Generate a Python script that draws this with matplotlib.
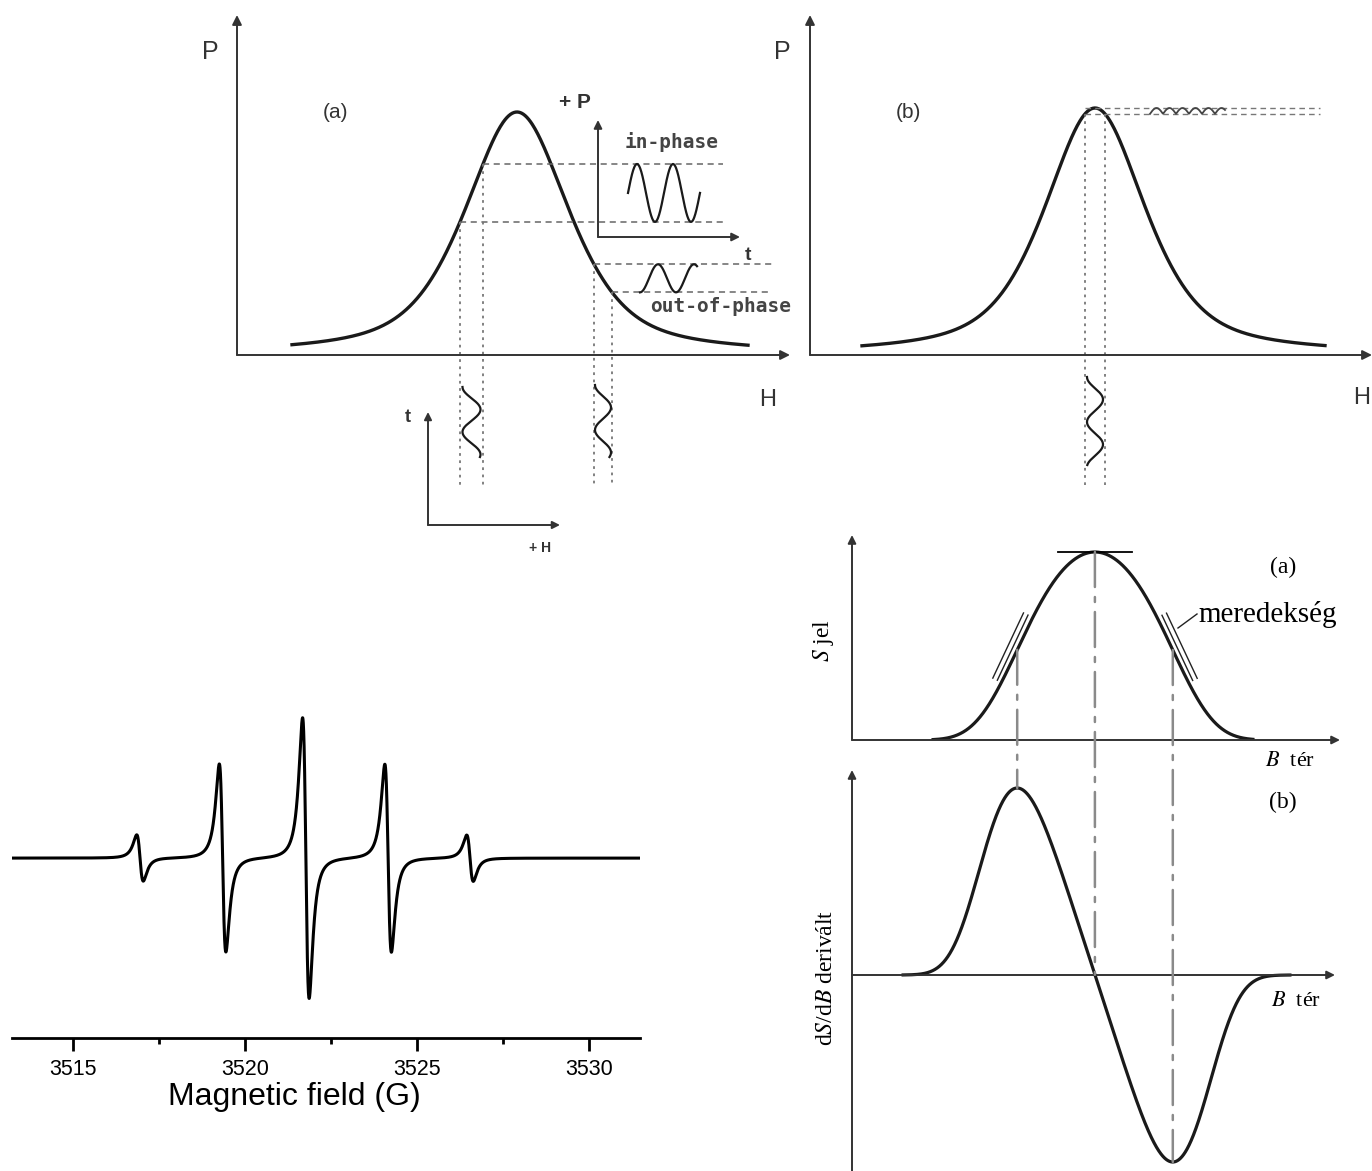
import numpy as np
import matplotlib.pyplot as plt
from matplotlib.patches import ConnectionPatch
from matplotlib.ticker import MultipleLocator

plt.rcParams['mathtext.fontset'] = 'stix'

W_PX, H_PX = 1372, 1171

# (a) / (b) absorption sketches, pseudo-Voigt lines (drawing units)
abs_center = [280, 285]
abs_width = [62, 60]
abs_height = [243, 247]
abs_eta = 0.6
abs_span = [(55, 511), (52, 515)]
mod_a_left = [223, 246]     # field modulation on the rising side
mod_a_right = [357, 375]    # field modulation on the falling side
mod_b = [275, 295]          # modulation at the line centre

# EPR spectrum, 1:4:6:4:1 quintet
epr_centers = [3516.95, 3519.35, 3521.77, 3524.16, 3526.54]
epr_amps = [0.17, 0.69, 1.03, 0.69, 0.17]
epr_hwhm = 0.165
epr_xlim = (3513.23, 3531.48)
epr_ticks = [3515, 3520, 3525, 3530]

# S jel / derivative sketch
s_center = 243
s_scale = 110
s_height = 188
d_height = 187

INK = '#1a1a1a'
AXC = '#333333'


def box(x0, y0, x1, y1):
    return [x0 / W_PX, 1 - y1 / H_PX, (x1 - x0) / W_PX, (y1 - y0) / H_PX]


def arrow(ax, p0, p1, ms=14):
    ax.annotate('', xy=p1, xytext=p0,
                arrowprops=dict(arrowstyle='-|>', lw=1.4, color=AXC,
                                mutation_scale=ms, shrinkA=0, shrinkB=0),
                annotation_clip=False)


def line(x, c, w, a):
    u = (np.asarray(x, dtype=float) - c) / w
    return a * (abs_eta / (1 + u ** 2) + (1 - abs_eta) * np.exp(-np.log(2) * u ** 2))


def wiggle(ax, pair, y0, y1, amp):
    yy = np.linspace(y0, y1, 200)
    mid = (pair[0] + pair[1]) / 2
    xx = mid - amp * np.cos(2 * np.pi * (y0 - yy) / 45)
    ax.plot(xx, yy, color=INK, lw=1.6, clip_on=False)


fig = plt.figure(figsize=(13.72, 11.71), dpi=100)
sans = 'Liberation Sans'
serif = 'Liberation Serif'

# ---------------- panel (a) top left ----------------
ax = fig.add_axes(box(237, 15, 790, 355))
ax.set_xlim(0, 553)
ax.set_ylim(0, 340)
ax.axis('off')
arrow(ax, (0, 0), (0, 340))
arrow(ax, (0, 0), (553, 0))
c, w, a = abs_center[0], abs_width[0], abs_height[0]
x = np.linspace(*abs_span[0], 500)
ax.plot(x, line(x, c, w, a), color=INK, lw=2.4)

for pair, xend in ((mod_a_left, 486), (mod_a_right, 535)):
    for xm in pair:
        ym = line(xm, c, w, a)
        ax.plot([xm, xend], [ym, ym], ls=(0, (4, 3)), color='#666', lw=1.1, clip_on=False)
        ax.plot([xm, xm], [ym, -130], ls=(0, (1.5, 2.5)), color='#777', lw=1.3, clip_on=False)

# response inset
arrow(ax, (361, 118), (361, 235), ms=12)
arrow(ax, (361, 118), (503, 118), ms=12)
lo, hi = line(mod_a_left, c, w, a)
xs = np.linspace(391, 463, 200)
ax.plot(xs, (lo + hi) / 2 + (hi - lo) / 2 * np.cos(2 * np.pi * (xs - 400) / 36), color=INK, lw=1.6)
hi2, lo2 = line(mod_a_right, c, w, a)
xs = np.linspace(403, 460, 200)
ax.plot(xs, (lo2 + hi2) / 2 - (hi2 - lo2) / 2 * np.cos(2 * np.pi * (xs - 403) / 36), color=INK, lw=1.6)

wiggle(ax, mod_a_left, -32, -102, 9)
wiggle(ax, mod_a_right, -30, -102, 8)
arrow(ax, (191, -170), (191, -57), ms=11)
arrow(ax, (191, -170), (323, -170), ms=11)

ax.text(-27, 303, 'P', fontsize=18, family=sans, ha='center', va='center', color=AXC)
ax.text(531, -45, 'H', fontsize=17, family=sans, ha='center', va='center', color=AXC)
ax.text(98, 243, '(a)', fontsize=15, family=sans, ha='center', va='center', color=AXC)
ax.text(338, 252, '+ P', fontsize=15, family=sans, weight='bold', ha='center', va='center', color=AXC)
ax.text(435, 213, 'in-phase', fontsize=14, family='DejaVu Sans Mono', weight='bold',
        ha='center', va='center', color='#444')
ax.text(511, 100, 't', fontsize=14, family=sans, weight='bold', ha='center', va='center', color=AXC)
ax.text(484, 48, 'out-of-phase', fontsize=14, family='DejaVu Sans Mono', weight='bold',
        ha='center', va='center', color='#444')
ax.text(171, -63, 't', fontsize=13, family=sans, weight='bold', ha='center', va='center', color=AXC)
ax.text(303, -193, '+ H', fontsize=10, family=sans, weight='bold', ha='center', va='center', color=AXC)

# ---------------- panel (b) top right ----------------
ax = fig.add_axes(box(810, 15, 1372, 355))
ax.set_xlim(0, 562)
ax.set_ylim(0, 340)
ax.axis('off')
arrow(ax, (0, 0), (0, 340))
arrow(ax, (0, 0), (562, 0))
c, w, a = abs_center[1], abs_width[1], abs_height[1]
x = np.linspace(*abs_span[1], 500)
ax.plot(x, line(x, c, w, a), color=INK, lw=2.4)
for yl in (a, line(mod_b[0], c, w, a)):
    ax.plot([mod_b[0], 510], [yl, yl], ls=(0, (4, 3)), color='#777', lw=1.0)
for xm in mod_b:
    ym = line(xm, c, w, a)
    ax.plot([xm, xm], [ym, -130], ls=(0, (1.5, 2.5)), color='#777', lw=1.3, clip_on=False)
lo = line(mod_b[0], c, w, a)
xs = np.linspace(340, 415, 200)
ax.plot(xs, lo + (a - lo) * np.abs(np.sin(np.pi * (xs - 340) / 13)), color='#444', lw=1.3)
wiggle(ax, mod_b, -22, -110, 8)
ax.text(-28, 303, 'P', fontsize=18, family=sans, ha='center', va='center', color=AXC)
ax.text(552, -43, 'H', fontsize=17, family=sans, ha='center', va='center', color=AXC)
ax.text(98, 243, '(b)', fontsize=15, family=sans, ha='center', va='center', color=AXC)

# ---------------- EPR spectrum bottom left ----------------
ax = fig.add_axes(box(12, 700, 640, 1038))
field = np.linspace(*epr_xlim, 20000)
sig = np.zeros_like(field)
for c0, a0 in zip(epr_centers, epr_amps):
    u = (field - c0) / epr_hwhm
    sig += a0 * (-2 * u / (1 + u ** 2) ** 2) / 0.6495
ax.plot(field, sig, color='black', lw=2.2)
ax.set_xlim(*epr_xlim)
ax.set_ylim(-1.32, 1.16)
for s in ('left', 'right', 'top'):
    ax.spines[s].set_visible(False)
ax.spines['bottom'].set_linewidth(2.0)
ax.set_yticks([])
ax.set_xticks(epr_ticks)
ax.xaxis.set_minor_locator(MultipleLocator(2.5))
ax.tick_params(which='major', length=9, width=2, labelsize=15.5, pad=6)
ax.tick_params(which='minor', length=4, width=2)
for lab in ax.get_xticklabels():
    lab.set_family(sans)
ax.set_xlabel('Magnetic field (G)', fontsize=23, family=sans)
ax.xaxis.set_label_coords(0.449, -0.13)

# ---------------- S jel and derivative bottom right ----------------
axS = fig.add_axes(box(852, 535, 1340, 740))
axD = fig.add_axes(box(852, 770, 1340, 1171))
for axx in (axS, axD):
    axx.set_xlim(0, 488)
    axx.axis('off')
axS.set_ylim(0, 205)
axD.set_ylim(-196, 205)

B = np.linspace(s_center - 220, s_center + 220, 4401)
t = (B - s_center) / s_scale
g = -t * np.exp(-t ** 4)
S = np.cumsum(g)
S = S / S.max() * s_height
D = g / g.max() * d_height
slope = np.gradient(S, B)

arrow(axS, (0, 0), (0, 205), ms=12)
arrow(axS, (0, 0), (488, 0), ms=12)
arrow(axD, (0, -196), (0, 205), ms=12)
arrow(axD, (0, 0), (483, 0), ms=12)

mS = (B > s_center - 162) & (B < s_center + 158)
axS.plot(B[mS], S[mS], color=INK, lw=2.3)
mD = (B > s_center - 192) & (B < s_center + 195)
axD.plot(B[mD], D[mD], color=INK, lw=2.3)

i_lo, i_hi = np.argmax(D), np.argmin(D)
i_c = np.argmax(S)
for i in (i_lo, i_c, i_hi):
    con = ConnectionPatch(xyA=(B[i], S[i]), coordsA=axS.transData,
                          xyB=(B[i], D[i]), coordsB=axD.transData,
                          ls=(0, (14, 4, 2, 4)), color='#8a8a8a', lw=1.8)
    fig.add_artist(con)

axS.plot([B[i_c] - 37, B[i_c] + 37], [S[i_c]] * 2, color='black', lw=1.3)
for i in (i_lo, i_hi):
    m = slope[i]
    nrm = np.array([-m, 1]) / np.hypot(m, 1)
    tan = np.array([1, m]) / np.hypot(m, 1)
    for d in (5, 10):
        p = np.array([B[i], S[i]]) + nrm * d
        seg = np.array([p - tan * 36, p + tan * 36])
        axS.plot(seg[:, 0], seg[:, 1], color='#222', lw=1.0, clip_on=False)
axS.plot([326, 345], [112, 126], color='#222', lw=1.0)

axS.text(346, 125, 'meredekség', fontsize=21, family=serif, ha='left', va='center')
axS.text(431, 173, '(a)', fontsize=17, family=serif, ha='center', va='center')
axS.text(438, -22, '$B$  tér', fontsize=16, family=serif, ha='center', va='center')
axS.text(-29, 99, '$S$ jel', fontsize=17, family=serif, ha='center', va='center', rotation=90)
axD.text(431, 173, '(b)', fontsize=17, family=serif, ha='center', va='center')
axD.text(444, -27, '$B$  tér', fontsize=16, family=serif, ha='center', va='center')
axD.text(-26, -3, 'd$S$/d$B$ derivált', fontsize=17, family=serif, ha='center', va='center',
         rotation=90)

fig.savefig('out.png', dpi=100)
